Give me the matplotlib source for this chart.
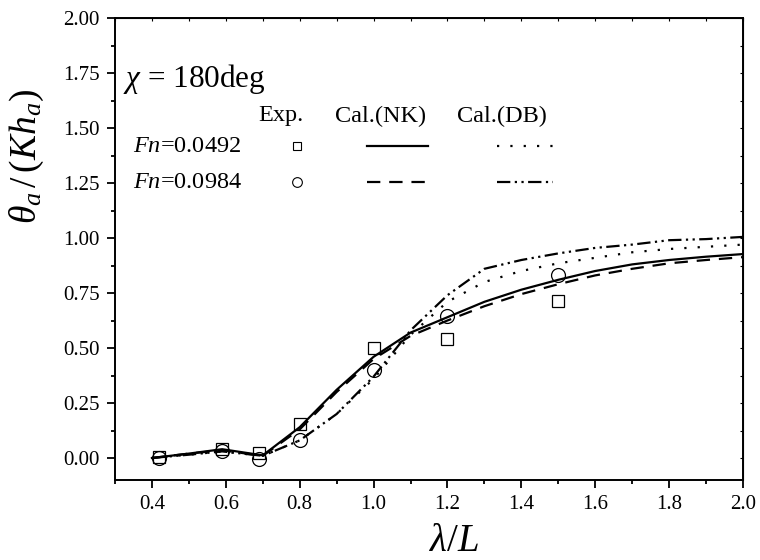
import matplotlib
matplotlib.use("Agg")
import matplotlib.pyplot as plt
from matplotlib.ticker import MultipleLocator, FormatStrFormatter

# Fonts: Times-like serif for everything, including mathtext
plt.rcParams["font.family"] = ["Liberation Serif", "DejaVu Serif"]
plt.rcParams["mathtext.fontset"] = "custom"
plt.rcParams["mathtext.rm"] = "Liberation Serif"
plt.rcParams["mathtext.it"] = "Liberation Serif:italic"

# Experimental data
exp_x = [0.42, 0.59, 0.69, 0.80, 1.00, 1.20, 1.50]
exp_fn1 = [0.005, 0.04, 0.025, 0.155, 0.50, 0.54, 0.715]
exp_fn2 = [0.0, 0.03, -0.005, 0.08, 0.40, 0.645, 0.83]

# Calculated curves
cal_x = [0.40, 0.50, 0.59, 0.70, 0.80, 0.90, 1.00, 1.10, 1.20,
         1.30, 1.40, 1.50, 1.60, 1.70, 1.80, 1.90, 2.00]
nk_fn1 = [0.0, 0.02, 0.04, 0.012, 0.14, 0.31, 0.46, 0.57, 0.64,
          0.71, 0.765, 0.81, 0.85, 0.88, 0.90, 0.915, 0.927]
nk_fn2 = [0.0, 0.02, 0.035, 0.01, 0.13, 0.30, 0.45, 0.555, 0.625,
          0.69, 0.745, 0.79, 0.83, 0.86, 0.885, 0.90, 0.913]
db_fn1 = [0.0, 0.015, 0.03, 0.01, 0.08, 0.20, 0.36, 0.56, 0.71,
          0.80, 0.85, 0.885, 0.91, 0.935, 0.95, 0.96, 0.97]
db_fn2 = [0.0, 0.015, 0.03, 0.01, 0.08, 0.20, 0.37, 0.58, 0.74,
          0.86, 0.90, 0.93, 0.955, 0.97, 0.99, 0.995, 1.005]

solid = "-"
dashed = (0, (6, 4))
dotted = (0, (1, 5))
dashdotdot = (0, (6, 2, 1, 2, 1, 2))

fig = plt.figure(figsize=(7.6, 5.6), dpi=100)
ax = fig.add_axes([115 / 760, 1 - 480 / 560, (743 - 115) / 760, (480 - 18) / 560])

lw = 1.6
ax.plot(cal_x, nk_fn1, color="black", lw=lw, linestyle=solid)
ax.plot(cal_x, nk_fn2, color="black", lw=lw, linestyle=dashed)
ax.plot(cal_x, db_fn1, color="black", lw=lw, linestyle=dotted)
ax.plot(cal_x, db_fn2, color="black", lw=lw, linestyle=dashdotdot)
ax.plot(exp_x, exp_fn1, linestyle="none", marker="s", ms=9, mfc="none",
        mec="black", mew=0.9)
ax.plot(exp_x, exp_fn2, linestyle="none", marker="o", ms=10, mfc="none",
        mec="black", mew=0.9)

ax.set_xlim(0.3, 2.0)
ax.set_ylim(-0.1, 2.0)
ax.xaxis.set_major_locator(MultipleLocator(0.2))
ax.xaxis.set_minor_locator(MultipleLocator(0.1))
ax.yaxis.set_major_locator(MultipleLocator(0.25))
ax.yaxis.set_minor_locator(MultipleLocator(0.125))
ax.xaxis.set_major_formatter(FormatStrFormatter("%.1f"))
ax.yaxis.set_major_formatter(FormatStrFormatter("%.2f"))
ax.set_xticks([0.4, 0.6, 0.8, 1.0, 1.2, 1.4, 1.6, 1.8, 2.0])
ax.tick_params(which="major", direction="out", length=6, width=1.3,
               labelsize=15, pad=5)
ax.tick_params(which="minor", direction="out", length=3, width=1.3)
for s in ax.spines.values():
    s.set_linewidth(1.4)

# small inward ticks on top and right
top = ax.secondary_xaxis("top")
top.xaxis.set_major_locator(MultipleLocator(0.1))
top.tick_params(direction="in", length=2.5, width=0.8, labeltop=False)
right = ax.secondary_yaxis("right")
right.yaxis.set_major_locator(MultipleLocator(0.125))
right.tick_params(direction="in", length=2.5, width=0.8, labelright=False)

ax.set_xlabel(r"$\lambda/L$", fontsize=28)
ax.xaxis.set_label_coords(0.54, -0.092)
ax.set_ylabel(r"$\theta_a\,/\,(Kh_a)$", fontsize=27)
ax.yaxis.set_label_coords(-0.11, 0.70)


def px(x, y):
    # pixel position in figure -> axes fraction
    return ((x - 115) / (743 - 115), (480 - y) / (480 - 18))


# in-plot legend table
ax.text(*px(123, 79), r"$\chi$ = 180deg", transform=ax.transAxes,
        fontsize=22.5, va="center", ha="left")
ax.text(*px(281, 116), "Exp.", transform=ax.transAxes, fontsize=17.5,
        va="center", ha="center")
ax.text(*px(381, 116), "Cal.(NK)", transform=ax.transAxes, fontsize=17.5,
        va="center", ha="center")
ax.text(*px(502, 116), "Cal.(DB)", transform=ax.transAxes, fontsize=17.5,
        va="center", ha="center")
ax.text(*px(133, 147), r"$Fn$=0.0492", transform=ax.transAxes, fontsize=17.5,
        va="center", ha="left")
ax.text(*px(133, 183), r"$Fn$=0.0984", transform=ax.transAxes, fontsize=17.5,
        va="center", ha="left")

ax.plot(*px(297, 146), transform=ax.transAxes, marker="s", ms=6, mfc="none",
        mec="black", mew=0.8)
ax.plot(*px(297, 182), transform=ax.transAxes, marker="o", ms=7, mfc="none",
        mec="black", mew=0.8)
for (x0, x1, y, ls) in [(367, 428, 146, solid), (367, 428, 182, dashed),
                        (497, 553, 146, dotted), (497, 553, 182, dashdotdot)]:
    p0 = px(x0, y)
    p1 = px(x1, y)
    ax.plot([p0[0], p1[0]], [p0[1], p1[1]], transform=ax.transAxes,
            color="black", lw=lw, linestyle=ls)

fig.savefig("out.png", dpi=100)
